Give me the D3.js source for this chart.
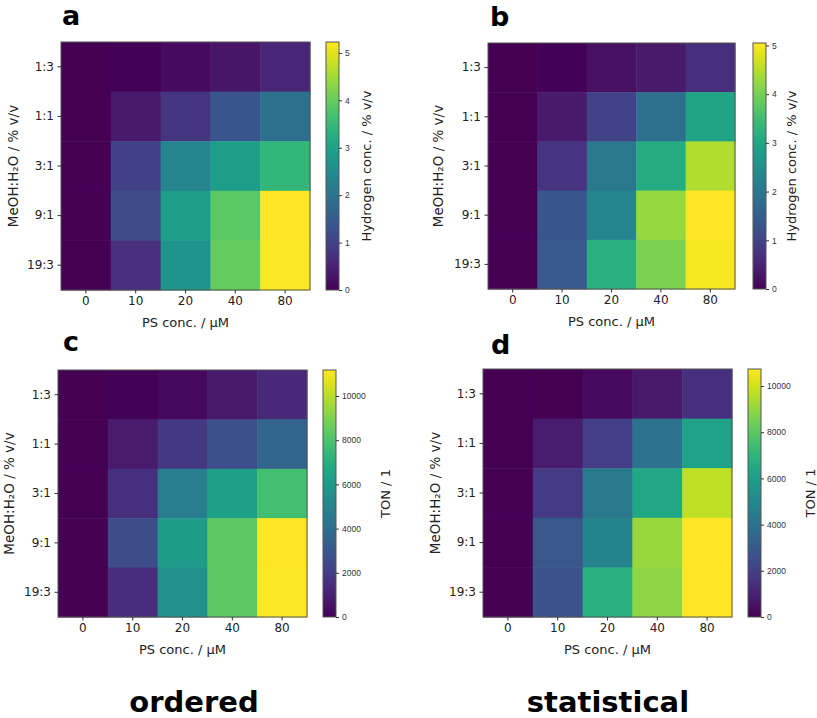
<!DOCTYPE html>
<html>
<head>
<meta charset="utf-8">
<script src="https://cdn.jsdelivr.net/npm/d3@7"></script>
<style>
  body { margin: 0; background: #fff; }
  svg { display: block; font-family: "DejaVu Sans", sans-serif; }
</style>
</head>
<body>
<svg id="chart" width="817" height="718"></svg>
<script>
// ---- data ----
const psConc = ["0", "10", "20", "40", "80"];
const ratios = ["1:3", "1:1", "3:1", "9:1", "19:3"];

// Hydrogen conc. / % v/v (rows = ratios, cols = psConc)
const hydrogenOrdered = [
  [0, 0.03, 0.15, 0.3, 0.55],
  [0, 0.35, 0.8, 1.4, 1.9],
  [0, 1.0, 2.35, 2.9, 3.45],
  [0, 1.2, 2.9, 3.9, 5.23],
  [0, 0.7, 2.7, 4.0, 5.2]
];
const hydrogenStatistical = [
  [0, 0.02, 0.2, 0.35, 0.7],
  [0, 0.35, 1.0, 1.85, 2.95],
  [0, 0.75, 2.0, 3.1, 4.45],
  [0, 1.35, 2.3, 4.25, 5.05],
  [0, 1.4, 3.2, 4.05, 5.0]
];
// TON / 1
const tonOrdered = [
  [0, 50, 250, 700, 1250],
  [0, 800, 1800, 2700, 3600],
  [0, 1550, 4700, 6250, 7800],
  [0, 2600, 6150, 8350, 11176],
  [0, 1450, 5600, 8400, 11100]
];
const tonStatistical = [
  [0, 20, 300, 700, 1500],
  [0, 850, 1950, 4000, 6200],
  [0, 1800, 4300, 6400, 9650],
  [0, 2900, 4800, 9100, 10736],
  [0, 2700, 6800, 8900, 10700]
];
const hydrogenTicks = [0, 1, 2, 3, 4, 5];
const tonTicks = [0, 2000, 4000, 6000, 8000, 10000];
const hydrogenMaxOrdered = 5.23;
const hydrogenMaxStatistical = 5.05;
const tonMaxOrdered = 11176;
const tonMaxStatistical = 10736;

// ---- layout ----
const panels = [
  { letter: "a", values: hydrogenOrdered, vmax: hydrogenMaxOrdered, ticks: hydrogenTicks,
    cbLabel: "Hydrogen conc. / % v/v",
    hx: 61, hy: 42, hw: 249, hh: 248, cbx: 326, lx: 62, ly: 25, ylabX: 13, cbLabX: 366 },
  { letter: "b", values: hydrogenStatistical, vmax: hydrogenMaxStatistical, ticks: hydrogenTicks,
    cbLabel: "Hydrogen conc. / % v/v",
    hx: 488, hy: 43, hw: 247, hh: 246, cbx: 753, lx: 490, ly: 26, ylabX: 438, cbLabX: 791 },
  { letter: "c", values: tonOrdered, vmax: tonMaxOrdered, ticks: tonTicks,
    cbLabel: "TON / 1",
    hx: 58, hy: 370, hw: 249, hh: 247, cbx: 323, lx: 63, ly: 351, ylabX: 9, cbLabX: 385 },
  { letter: "d", values: tonStatistical, vmax: tonMaxStatistical, ticks: tonTicks,
    cbLabel: "TON / 1",
    hx: 483, hy: 369, hw: 249, hh: 248, cbx: 748, lx: 491, ly: 354, ylabX: 435, cbLabX: 810 }
];

const svg = d3.select("#chart");
const defs = svg.append("defs");
const grad = defs.append("linearGradient")
  .attr("id", "viridisGrad").attr("x1", 0).attr("y1", 1).attr("x2", 0).attr("y2", 0);
d3.range(0, 1.0001, 0.05).forEach(t => {
  grad.append("stop").attr("offset", t).attr("stop-color", d3.interpolateViridis(t));
});

panels.forEach(p => {
  const g = svg.append("g");
  const x = d3.scaleBand().domain(psConc).range([p.hx, p.hx + p.hw]).padding(0);
  const y = d3.scaleBand().domain(ratios).range([p.hy, p.hy + p.hh]).padding(0);
  const color = d3.scaleSequential(d3.interpolateViridis).domain([0, p.vmax]);

  const cells = [];
  ratios.forEach((r, i) => psConc.forEach((c, j) => cells.push({ r, c, v: p.values[i][j] })));
  g.selectAll("rect.cell").data(cells).join("rect")
    .attr("class", "cell")
    .attr("x", d => x(d.c)).attr("y", d => y(d.r))
    .attr("width", x.bandwidth() + 0.5).attr("height", y.bandwidth() + 0.5)
    .attr("fill", d => color(Math.min(d.v, p.vmax)));

  g.append("rect").attr("x", p.hx).attr("y", p.hy).attr("width", p.hw).attr("height", p.hh)
    .attr("fill", "none").attr("stroke", "#555").attr("stroke-width", 1);

  const xAxis = g.append("g").attr("transform", `translate(0,${p.hy + p.hh})`)
    .call(d3.axisBottom(x).tickSize(3.5).tickPadding(3));
  const yAxis = g.append("g").attr("transform", `translate(${p.hx},0)`)
    .call(d3.axisLeft(y).tickSize(3.5).tickPadding(3.5));
  [xAxis, yAxis].forEach(a => {
    a.select(".domain").remove();
    a.selectAll("text").attr("font-size", 12).attr("fill", "#222").attr("font-family", "DejaVu Sans");
    a.selectAll("line").attr("stroke", "#333");
  });

  g.append("text").attr("x", p.hx + p.hw / 2).attr("y", p.hy + p.hh + 37)
    .attr("text-anchor", "middle").attr("font-size", 13).attr("fill", "#222")
    .text("PS conc. / μM");

  g.append("text")
    .attr("transform", `translate(${p.ylabX},${p.hy + p.hh / 2}) rotate(-90)`)
    .attr("text-anchor", "middle").attr("dominant-baseline", "central")
    .attr("font-size", 13.5).attr("fill", "#222")
    .text("MeOH:H₂O / % v/v");

  g.append("text").attr("x", p.lx).attr("y", p.ly)
    .attr("font-size", 27).attr("font-weight", "bold").attr("fill", "#000")
    .text(p.letter);

  // colorbar
  const cbw = 13;
  const cy = d3.scaleLinear().domain([0, p.vmax]).range([p.hy + p.hh, p.hy]);
  g.append("rect").attr("x", p.cbx).attr("y", p.hy).attr("width", cbw).attr("height", p.hh)
    .attr("fill", "url(#viridisGrad)").attr("stroke", "#555").attr("stroke-width", 1);
  const cbAxis = g.append("g").attr("transform", `translate(${p.cbx + cbw},0)`)
    .call(d3.axisRight(cy).tickValues(p.ticks).tickSize(3).tickPadding(3).tickFormat(d3.format("d")));
  cbAxis.select(".domain").remove();
  cbAxis.selectAll("text").attr("font-size", 8.5).attr("fill", "#333");
  cbAxis.selectAll("line").attr("stroke", "#333");

  g.append("text")
    .attr("transform", `translate(${p.cbLabX},${p.hy + p.hh / 2}) rotate(-90)`)
    .attr("text-anchor", "middle").attr("dominant-baseline", "central")
    .attr("font-size", 13).attr("fill", "#222")
    .text(p.cbLabel);
});

svg.append("text").attr("x", 194).attr("y", 712).attr("text-anchor", "middle")
  .attr("font-size", 29).attr("font-weight", "bold").text("ordered");
svg.append("text").attr("x", 608).attr("y", 712).attr("text-anchor", "middle")
  .attr("font-size", 29).attr("font-weight", "bold").text("statistical");
</script>
</body>
</html>
